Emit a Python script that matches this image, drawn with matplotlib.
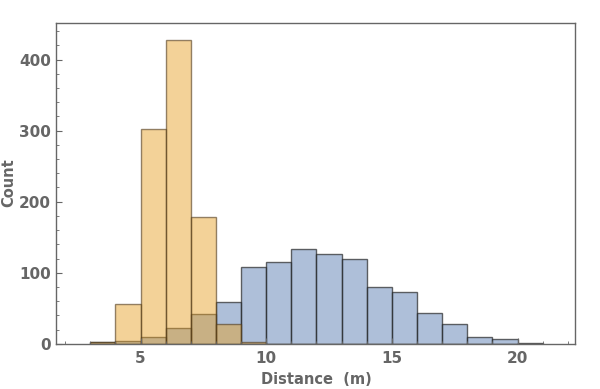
import matplotlib
matplotlib.use('Agg')
import matplotlib.pyplot as plt
from matplotlib.ticker import MultipleLocator

# bin edges (width 1)
bin_left = list(range(3, 21))

# counts
blue_counts = [2, 4, 9, 23, 42, 59, 108, 115, 133, 126, 120, 80, 73, 44, 28, 9, 7, 1]
orange_counts = [2, 56, 302, 428, 178, 28, 2, 0, 0, 0, 0, 0, 0, 0, 0, 0, 0, 0]

x_ticks = [5, 10, 15, 20]
y_ticks = [0, 100, 200, 300, 400]

label_color = "#666666"

fig = plt.figure(figsize=(6, 3.89), dpi=100)
ax = fig.add_axes([0.093, 0.116, 0.866, 0.826])

ax.bar(bin_left, blue_counts, width=1, align="edge",
       color=(0.369, 0.506, 0.71, 0.5), edgecolor=(0.15, 0.15, 0.15, 0.7),
       linewidth=1.0)
ax.bar(bin_left, orange_counts, width=1, align="edge",
       color=(0.9, 0.63, 0.16, 0.48), edgecolor=(0.3, 0.22, 0.1, 0.6),
       linewidth=1.0)

ax.set_xlim(1.63, 22.3)
ax.set_ylim(0, 452)
ax.set_xticks(x_ticks)
ax.set_yticks(y_ticks)
ax.xaxis.set_minor_locator(MultipleLocator(1))
ax.yaxis.set_minor_locator(MultipleLocator(20))

ax.tick_params(which="both", direction="in", colors=label_color,
               top=False, right=False, labelsize=11)
ax.tick_params(which="major", length=4, width=0.8)
ax.tick_params(which="minor", length=2, width=0.6)
ax.tick_params(axis="x", pad=5)
for lab in ax.get_xticklabels() + ax.get_yticklabels():
    lab.set_fontweight("bold")

for sp in ax.spines.values():
    sp.set_color(label_color)
    sp.set_linewidth(1.0)

# axis labels placed in figure pixels to match the reference
fig.text(316 / 600, 1 - 379 / 389, "Distance  (m)", fontsize=10.5,
         fontweight="bold", color=label_color, ha="center", va="center")
fig.text(9 / 600, 1 - 183 / 389, "Count", fontsize=10.5, rotation=90,
         fontweight="bold", color=label_color, ha="center", va="center")

fig.savefig("out.png", dpi=100)
